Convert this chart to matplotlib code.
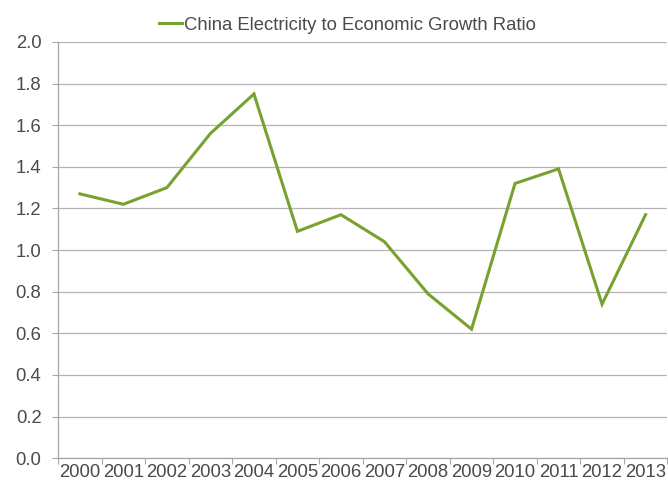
import matplotlib
matplotlib.use('Agg')
import matplotlib.pyplot as plt
import numpy as np

plt.rcParams['font.family'] = ['Liberation Sans', 'DejaVu Sans']

years = ['2000', '2001', '2002', '2003', '2004', '2005', '2006',
         '2007', '2008', '2009', '2010', '2011', '2012', '2013']
ratio = [1.27, 1.22, 1.30, 1.56, 1.75, 1.09, 1.17,
         1.04, 0.79, 0.62, 1.32, 1.39, 0.74, 1.17]
yticks = [0.0, 0.2, 0.4, 0.6, 0.8, 1.0, 1.2, 1.4, 1.6, 1.8, 2.0]

text_color = '#4A4A4A'
grid_color = '#B4B4B4'
axis_color = '#A6A6A6'
line_color = '#77A22F'

fig = plt.figure(figsize=(6.68, 4.87), dpi=100)
ax = fig.add_axes([0.087, 0.059, 0.912, 0.855])

x = np.arange(len(years))
ax.plot(x, ratio, color=line_color, linewidth=2.2,
        label='China Electricity to Economic Growth Ratio',
        solid_joinstyle='miter')

ax.set_xlim(-0.5, len(years) - 0.5)
ax.set_ylim(0, 2.0)
ax.set_yticks(yticks)
ax.set_yticklabels([f'{v:.1f}' for v in yticks])
ax.set_xticks(x)
ax.set_xticklabels(years)
ax.set_xticks(np.arange(-0.5, len(years)), minor=True)

ax.tick_params(axis='x', which='major', length=0, pad=4,
               labelsize=13.3, labelcolor=text_color)
ax.tick_params(axis='x', which='minor', length=4, width=0.8,
               color=axis_color, direction='out')
ax.tick_params(axis='y', length=4, width=0.8, color=axis_color,
               labelsize=13.3, labelcolor=text_color, pad=8)

ax.grid(axis='y', color=grid_color, linewidth=0.9)
ax.set_axisbelow(True)
for side in ['top', 'right']:
    ax.spines[side].set_visible(False)
for side in ['left', 'bottom']:
    ax.spines[side].set_color(axis_color)
    ax.spines[side].set_linewidth(0.9)

leg = ax.legend(loc='lower center', bbox_to_anchor=(0.475, 1.0), frameon=False,
                fontsize=13.3, handlelength=1.25, handletextpad=0.1,
                borderaxespad=0.05)
for t in leg.get_texts():
    t.set_color(text_color)

fig.savefig('out.png', dpi=100)
